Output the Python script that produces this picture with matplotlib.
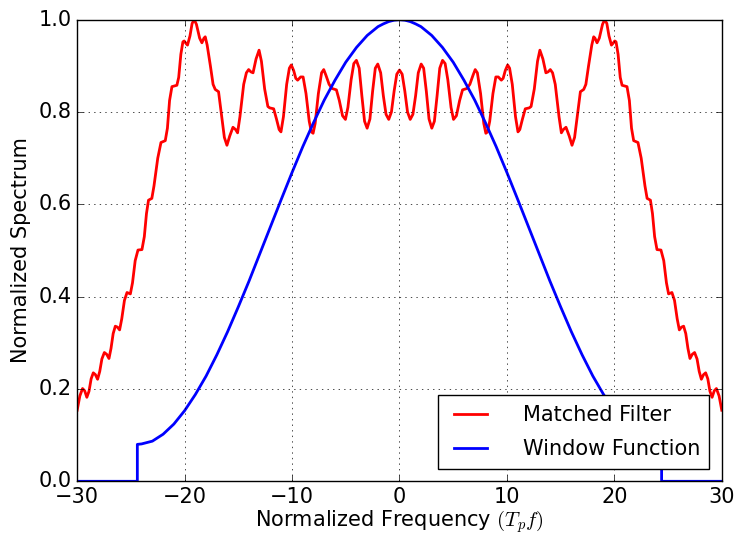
import numpy as np
import matplotlib
matplotlib.use('Agg')
import matplotlib.pyplot as plt

plt.style.use('classic')

# Matched filter spectrum, left half (the spectrum is symmetric about f = 0)
mf_freq_left = [
    -30.0, -29.75, -29.5, -29.3, -29.1, -28.9, -28.7, -28.5, -28.3, -28.1,
    -27.9, -27.7, -27.47, -27.25, -27.04, -26.85, -26.65, -26.45, -26.25, -26.05,
    -25.85, -25.6, -25.36, -25.05, -24.85, -24.6, -24.34, -23.97, -23.75, -23.55,
    -23.36, -23.05, -22.85, -22.5, -22.2, -21.8, -21.6, -21.4, -21.18, -20.72,
    -20.55, -20.35, -20.16, -20.04, -19.85, -19.73, -19.5, -19.3, -19.1, -18.9,
    -18.6, -18.39, -18.2, -18.08, -17.9, -17.6, -17.35, -17.15, -16.84, -16.6,
    -16.3, -16.06, -15.8, -15.5, -15.25, -15.07, -14.85, -14.5, -14.25, -14.04,
    -13.83, -13.63, -13.35, -13.07, -12.85, -12.55, -12.25, -12.08, -11.71, -11.45,
    -11.2, -11.03, -10.8, -10.5, -10.25, -10.07, -9.85, -9.65, -9.48, -9.2,
    -8.97, -8.7, -8.4, -8.2, -8.04, -7.85, -7.55, -7.25, -7.05, -6.85,
    -6.55, -6.27, -5.87, -5.6, -5.3, -5.03, -4.8, -4.5, -4.25, -4.01,
    -3.75, -3.5, -3.25, -3.01, -2.75, -2.5, -2.25, -2.02, -1.75, -1.5,
    -1.25, -1.0, -0.75, -0.5, -0.25, 0.0,
]
mf_level_left = [
    0.154, 0.185, 0.201, 0.196, 0.182, 0.195, 0.222, 0.235, 0.231, 0.221,
    0.238, 0.265, 0.279, 0.275, 0.266, 0.288, 0.320, 0.336, 0.334, 0.328,
    0.352, 0.392, 0.409, 0.406, 0.430, 0.478, 0.501, 0.502, 0.530, 0.580,
    0.609, 0.613, 0.640, 0.700, 0.734, 0.738, 0.765, 0.825, 0.855, 0.858,
    0.875, 0.925, 0.952, 0.954, 0.948, 0.945, 0.965, 0.992, 1.000, 0.990,
    0.960, 0.950, 0.960, 0.963, 0.945, 0.900, 0.860, 0.849, 0.844, 0.800,
    0.745, 0.728, 0.748, 0.767, 0.762, 0.755, 0.790, 0.860, 0.885, 0.892,
    0.887, 0.885, 0.915, 0.934, 0.910, 0.850, 0.812, 0.809, 0.807, 0.785,
    0.762, 0.757, 0.790, 0.860, 0.895, 0.902, 0.890, 0.873, 0.869, 0.876,
    0.876, 0.840, 0.780, 0.757, 0.754, 0.775, 0.840, 0.885, 0.892, 0.880,
    0.860, 0.851, 0.848, 0.825, 0.792, 0.784, 0.810, 0.870, 0.905, 0.912,
    0.895, 0.835, 0.780, 0.765, 0.785, 0.845, 0.895, 0.904, 0.885, 0.835,
    0.795, 0.784, 0.800, 0.845, 0.882, 0.891,
]

# Hamming-type window, left half, zero outside the band edge
win_freq_left = [
    -30.0, -24.4, -24.4, -24.0, -23.0, -22.0, -21.0, -20.0, -19.0, -18.0,
    -17.0, -16.0, -15.0, -14.0, -13.0, -12.0, -11.0, -10.0, -9.0, -8.0,
    -7.0, -6.0, -5.0, -4.0, -3.0, -2.0, -1.5, -1.0, -0.5, 0.0,
]
win_level_left = [
    0.0, 0.0, 0.080, 0.081, 0.087, 0.102, 0.124, 0.153, 0.188, 0.228,
    0.274, 0.324, 0.378, 0.434, 0.493, 0.552, 0.611, 0.669, 0.725, 0.777,
    0.826, 0.869, 0.908, 0.940, 0.966, 0.985, 0.991, 0.996, 0.999, 1.000,
]


def mirror(freq, level):
    """Extend a left-half spectrum to the full symmetric band."""
    freq = np.asarray(freq)
    level = np.asarray(level)
    full_f = np.concatenate([freq, -freq[-2::-1]])
    full_v = np.concatenate([level, level[-2::-1]])
    return full_f, full_v


mf_f, mf_v = mirror(mf_freq_left, mf_level_left)
win_f, win_v = mirror(win_freq_left, win_level_left)

fig = plt.figure(figsize=(7.35, 5.33), dpi=100)
ax = fig.add_axes([0.105, 0.097, 0.877, 0.866])

ax.plot(mf_f, mf_v, color='r', linewidth=2, label='Matched Filter')
ax.plot(win_f, win_v, color='b', linewidth=2, label='Window Function')

ax.set_xlim(-30, 30)
ax.set_ylim(0, 1.0)
ax.set_xticks(np.arange(-30, 31, 10))
ax.set_yticks(np.arange(0, 1.01, 0.2))
ax.tick_params(labelsize=15)
ax.grid(True)

ax.set_xlabel(r'Normalized Frequency $(T_pf)$', fontsize=15, labelpad=1)
ax.set_ylabel('Normalized Spectrum', fontsize=15)
ax.legend(loc='lower right', fontsize=15, handlelength=2.2, handletextpad=1.4,
          labelspacing=0.7, borderpad=0.45, borderaxespad=0.6)

fig.savefig('out.png', dpi=100, facecolor='white')
